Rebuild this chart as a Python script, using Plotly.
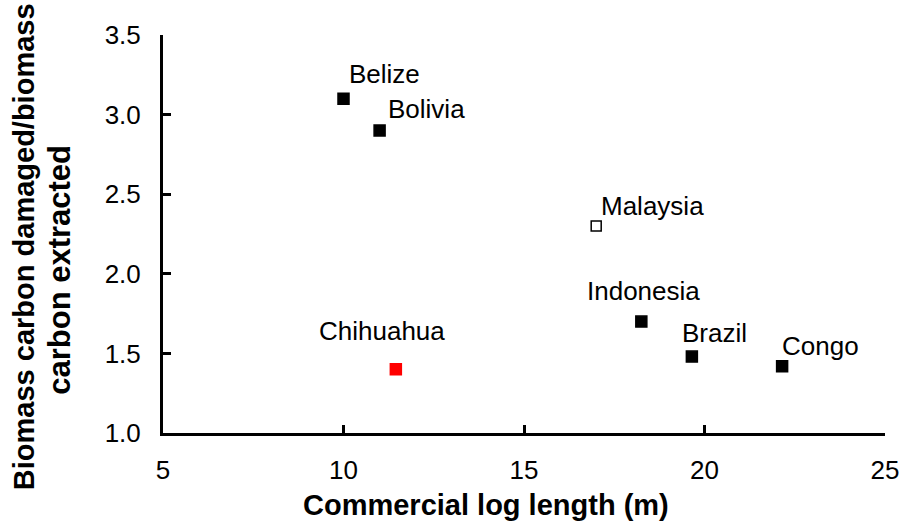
import plotly.graph_objects as go

# Data
countries = ["Belize", "Bolivia", "Malaysia", "Indonesia", "Brazil", "Congo", "Chihuahua"]
log_length = [10.0, 11.0, 17.0, 18.25, 19.65, 22.15, 11.45]
damage_ratio = [3.10, 2.90, 2.30, 1.70, 1.48, 1.42, 1.40]
x_ticks = [5, 10, 15, 20, 25]
y_ticks = [1.0, 1.5, 2.0, 2.5, 3.0, 3.5]

# Styles per point
fill_colors = ["black", "black", "white", "black", "black", "black", "red"]
line_colors = ["black", "black", "black", "black", "black", "black", "red"]
marker_sizes = [11, 11, 10, 11, 11, 11, 11]
# label placement: (xanchor, xshift px, yshift px)
label_pos = {
    "Belize": ("left", 3, 25),
    "Bolivia": ("left", 6, 22),
    "Malaysia": ("left", 3, 20),
    "Indonesia": ("center", 2, 31),
    "Brazil": ("center", 23, 24),
    "Congo": ("left", -2, 20),
    "Chihuahua": ("center", -14, 38),
}

FONT = "Arial, Liberation Sans, sans-serif"

fig = go.Figure()
fig.add_trace(go.Scatter(
    x=log_length, y=damage_ratio, mode="markers",
    marker=dict(symbol="square", size=marker_sizes, color=fill_colors, opacity=1,
                line=dict(color=line_colors, width=1.5)),
    showlegend=False, hoverinfo="skip",
))

annotations = []
for name, xv, yv in zip(countries, log_length, damage_ratio):
    xa, xs, ys = label_pos[name]
    annotations.append(dict(
        x=xv, y=yv, xref="x", yref="y", text=name, showarrow=False,
        xanchor=xa, yanchor="middle", xshift=xs, yshift=ys,
        font=dict(family=FONT, size=26, color="black"),
    ))

annotations.append(dict(
    x=0.448, y=-0.181, xref="paper", yref="paper",
    text="<b>Commercial log length (m)</b>", showarrow=False,
    xanchor="center", yanchor="middle",
    font=dict(family=FONT, size=29, color="black"),
))
annotations.append(dict(
    x=-0.1925, y=0.467, xref="paper", yref="paper",
    text="<b>Biomass carbon damaged/biomass</b>", showarrow=False,
    xanchor="center", yanchor="middle", textangle=-90,
    font=dict(family=FONT, size=29, color="black"),
))
annotations.append(dict(
    x=-0.1427, y=0.41, xref="paper", yref="paper",
    text="<b>carbon extracted</b>", showarrow=False,
    xanchor="center", yanchor="middle", textangle=-90,
    font=dict(family=FONT, size=31, color="black"),
))

fig.update_layout(
    width=902, height=523,
    margin=dict(l=163, r=17, t=35, b=90, autoexpand=False),
    paper_bgcolor="white", plot_bgcolor="white",
    font=dict(family=FONT, size=26, color="black"),
    annotations=annotations,
    xaxis=dict(
        range=[5, 25], tickvals=x_ticks, ticktext=[str(v) for v in x_ticks],
        showline=True, linewidth=3, linecolor="black",
        ticks="inside", ticklen=8, tickwidth=3, tickcolor="black",
        showgrid=False, zeroline=False, ticklabelstandoff=12, automargin=False,
        tickfont=dict(family=FONT, size=26, color="black"),
    ),
    yaxis=dict(
        range=[1, 3.5], tickvals=y_ticks, ticktext=[f"{v:.1f}" for v in y_ticks],
        showline=True, linewidth=3, linecolor="black",
        ticks="inside", ticklen=8, tickwidth=3, tickcolor="black",
        showgrid=False, zeroline=False, ticklabelstandoff=14, automargin=False,
        tickfont=dict(family=FONT, size=26, color="black"),
    ),
)

fig.write_html(
    "out.html",
    config={"displayModeBar": False, "staticPlot": True},
    post_script="document.body.style.margin='0';document.body.style.overflow='hidden';",
)
